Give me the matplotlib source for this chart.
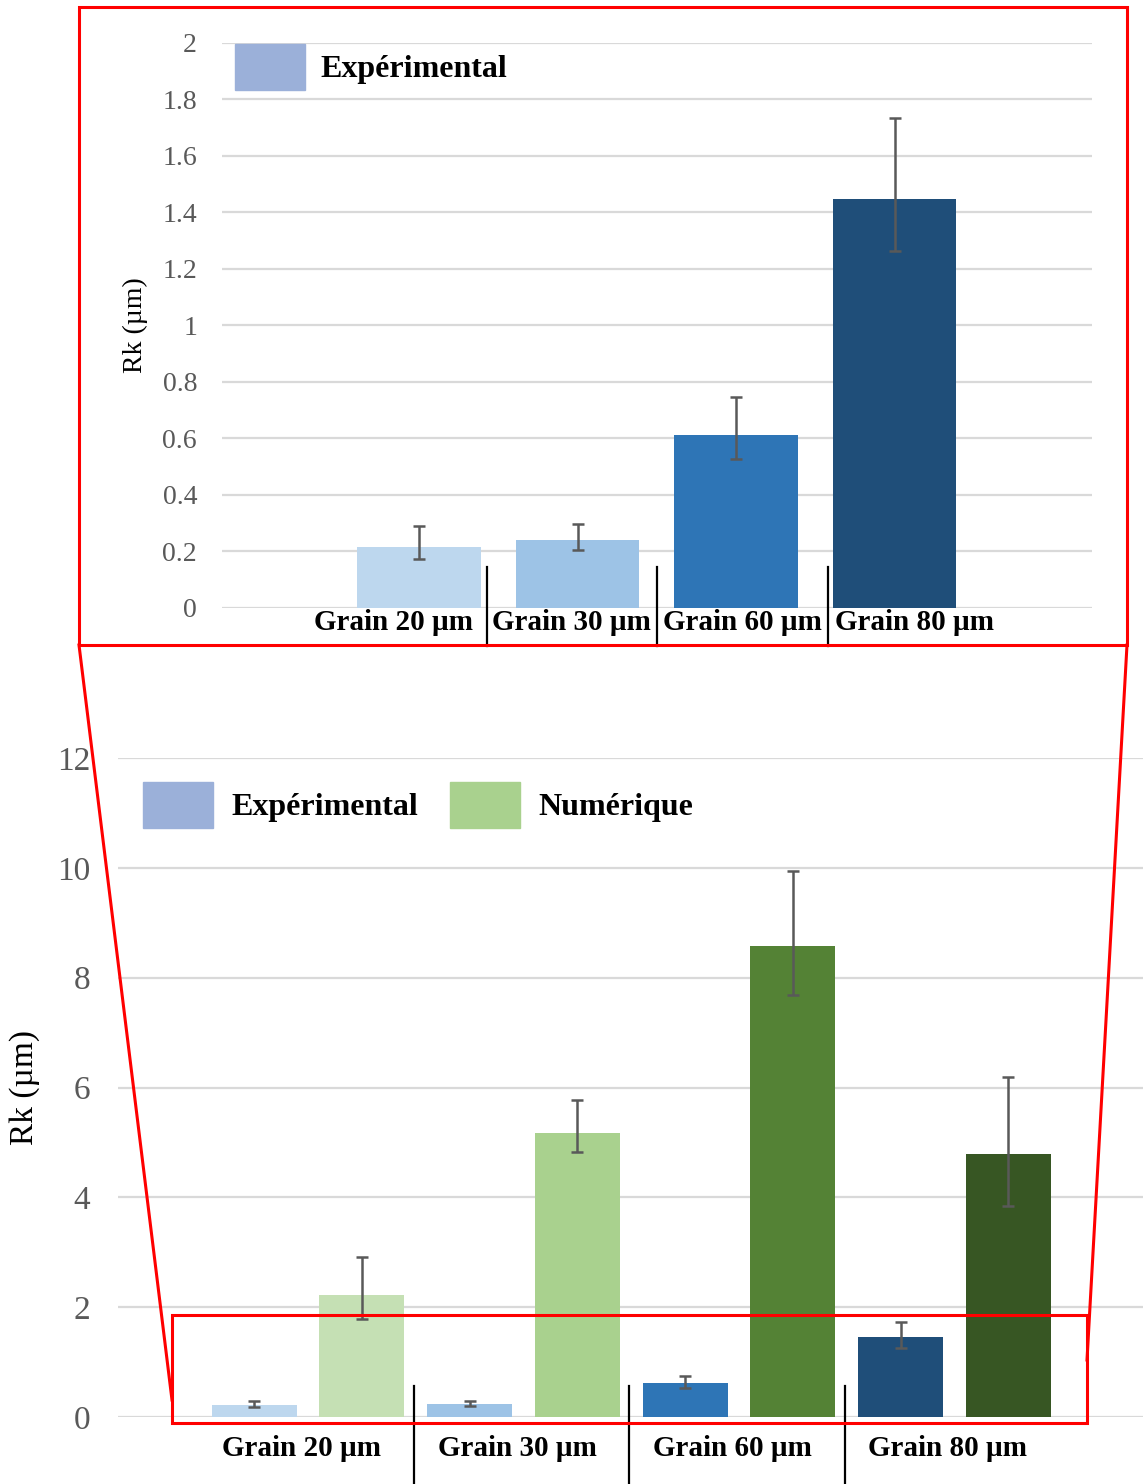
import matplotlib
matplotlib.use('Agg')
import matplotlib.pyplot as plt
import numpy as np
from matplotlib.patches import Rectangle, Patch
from matplotlib.lines import Line2D

plt.rcParams['font.family'] = ['Liberation Serif', 'DejaVu Serif']

# data
categories = ['Grain 20 µm', 'Grain 30 µm', 'Grain 60 µm', 'Grain 80 µm']
exp_values = [0.216, 0.238, 0.613, 1.449]
exp_err_up = [0.072, 0.058, 0.134, 0.287]
exp_err_down = [0.043, 0.034, 0.086, 0.185]
num_values = [2.22, 5.18, 8.57, 4.79]
num_err_up = [0.69, 0.60, 1.38, 1.41]
num_err_down = [0.44, 0.36, 0.88, 0.94]
top_ticks = [0, 0.2, 0.4, 0.6, 0.8, 1, 1.2, 1.4, 1.6, 1.8, 2]
bottom_ticks = [0, 2, 4, 6, 8, 10, 12]

exp_colors = ['#BDD7EE', '#9DC3E6', '#2E75B6', '#1F4E79']
num_colors = ['#C5E0B4', '#A9D18E', '#548235', '#375623']
legend_exp = '#9BB0D9'
legend_num = '#A9D18E'
grid_col = '#D9D9D9'
tick_col = '#595959'

W, H = 1143, 1484
fig = plt.figure(figsize=(W / 100, H / 100), dpi=100)


def fx(x):
    return x / W


def fy(y):
    return 1 - y / H


err_kw = dict(ecolor='#595959', elinewidth=1.8, capsize=4.5, capthick=1.8)
x = np.arange(len(categories))
leg_font = dict(size=23, weight='bold')


def style_axis(ax, ticks, size, pad):
    for s in ax.spines.values():
        s.set_visible(False)
    ax.set_yticks(ticks)
    ax.set_yticklabels([f'{t:g}' for t in ticks])
    ax.tick_params(axis='y', length=0, pad=pad, labelsize=size, labelcolor=tick_col)
    ax.set_xticks([])
    ax.yaxis.grid(True, color=grid_col, lw=1.6)
    ax.set_axisbelow(True)


# top chart (zoom on experimental values)
ax1 = fig.add_axes([fx(222), fy(607.6), (1092 - 222) / W, (607.6 - 43) / H])
ax1.set_xlim(-1.243, 4.246)
ax1.set_ylim(0, 2)
style_axis(ax1, top_ticks, 20, 18)
ax1.bar(x, exp_values, width=0.782, color=exp_colors,
        yerr=[exp_err_down, exp_err_up], error_kw=err_kw)
ax1.set_ylabel('Rk (µm)', fontsize=20, color='black')
ax1.yaxis.set_label_coords(-0.085, 0.5)

slot0, slotw = -0.65, 1.076
label_shift = [-0.05, 0, 0, 0.01]
for i, name in enumerate(categories):
    ax1.text(slot0 + slotw * (i + 0.5) + label_shift[i], -0.054, name,
             ha='center', va='center', fontsize=21, fontweight='bold',
             clip_on=False)
for i in range(1, len(categories)):
    ax1.plot([slot0 + slotw * i] * 2, [0.144, -0.135], color='black', lw=1.6,
             clip_on=False)

ax1.legend(handles=[Patch(color=legend_exp, label='Expérimental')],
           loc='upper left', bbox_to_anchor=(fx(235), fy(44)),
           bbox_transform=fig.transFigure, frameon=False, borderpad=0,
           borderaxespad=0, handlelength=2.19, handleheight=1.84,
           handletextpad=0.47, prop=leg_font)

# bottom chart
ax2 = fig.add_axes([fx(118), fy(1417), (1143 - 118) / W, (1417 - 758) / H])
ax2.set_xlim(-0.882, 3.875)
ax2.set_ylim(0, 12)
style_axis(ax2, bottom_ticks, 24, 20)
ax2.bar(x - 0.25, exp_values, width=0.394, color=exp_colors,
        yerr=[exp_err_down, exp_err_up], error_kw=err_kw)
ax2.bar(x + 0.25, num_values, width=0.394, color=num_colors,
        yerr=[num_err_down, num_err_up], error_kw=err_kw)
ax2.set_ylabel('Rk (µm)', fontsize=24, color='black')
ax2.yaxis.set_label_coords(-0.076, 0.5)

for i, name in enumerate(categories):
    ax2.text(i - 0.03, -0.565, name, ha='center', va='center',
             fontsize=21, fontweight='bold', clip_on=False)
for i in range(len(categories) - 1):
    ax2.plot([i + 0.49] * 2, [0.565, -1.25], color='black', lw=1.6, clip_on=False)

ax2.legend(handles=[Patch(color=legend_exp, label='Expérimental'),
                    Patch(color=legend_num, label='Numérique')],
           loc='upper left', bbox_to_anchor=(fx(143), fy(782)),
           bbox_transform=fig.transFigure, frameon=False, ncol=2, borderpad=0,
           borderaxespad=0, handlelength=2.19, handleheight=1.84,
           handletextpad=0.59, columnspacing=0.97, prop=leg_font)

# red zoom frame
fig.add_artist(Rectangle((fx(79), fy(645)), (1127 - 79) / W, (645 - 7) / H,
                         transform=fig.transFigure, fill=False, ec='red', lw=2.2))
fig.add_artist(Rectangle((fx(172), fy(1423)), (1087 - 172) / W, (1423 - 1315) / H,
                         transform=fig.transFigure, fill=False, ec='red', lw=2.2))
fig.add_artist(Line2D([fx(79), fx(172)], [fy(645), fy(1400)],
                      transform=fig.transFigure, color='red', lw=2.2))
fig.add_artist(Line2D([fx(1127), fx(1087)], [fy(645), fy(1360)],
                      transform=fig.transFigure, color='red', lw=2.2))

fig.savefig('out.png', dpi=100)
